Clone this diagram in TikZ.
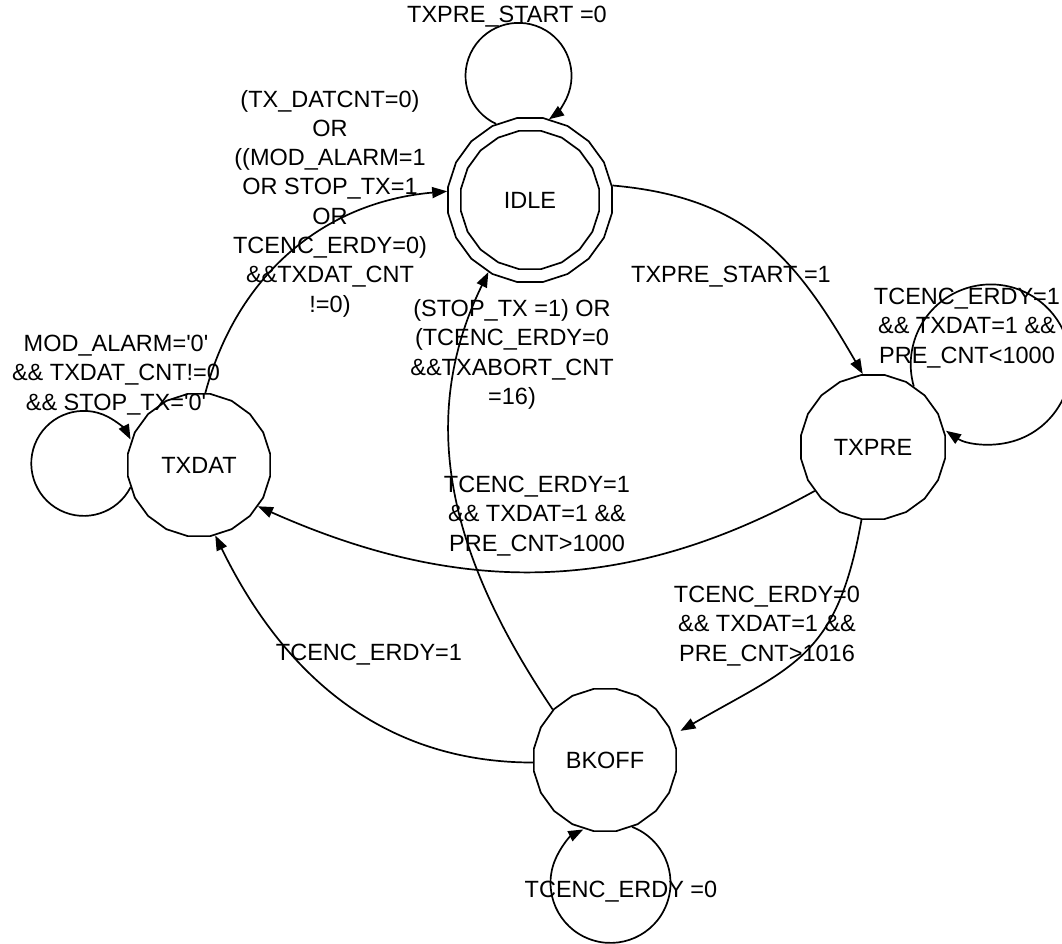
\documentclass[tikz,border=0pt]{standalone}
\usepackage{fontspec}
\setmainfont{Liberation Sans}[Ligatures=TeXOff]
\usetikzlibrary{arrows.meta,shapes.geometric}
\newcommand\fsmfont{\fontsize{23.5}{29.3}\selectfont}
\begin{document}
\begin{tikzpicture}[x=1pt,y=1pt,
  state/.style={draw, line width=1.7pt, regular polygon, regular polygon sides=20,
                inner sep=0pt, font=\fsmfont},
  cond/.style={align=center, inner sep=0pt, font=\fsmfont},
  trans/.style={draw, line width=1.7pt, -{Triangle[length=15pt,width=11pt]}}]
\useasboundingbox (0,0) rectangle (1062,-944);

% states
\node[state, minimum size=166pt] (idle) at (530,-200) {IDLE};
\node[state, minimum size=140pt] (idlein) at (idle.center) {};
\node[state, minimum size=144pt] (txdat) at (199,-465) {TXDAT};
\node[state, minimum size=146pt] (txpre) at (873,-447) {TXPRE};
\node[state, minimum size=144pt] (bkoff) at (605,-760) {BKOFF};

% transitions between states
\draw[trans] (idle.10) to[out=-5,in=120,looseness=1.1] (txpre.98);
\draw[trans] (txpre.217) to[out=209,in=-24] (txdat.-35);
\draw[trans, shorten >=9pt] (txpre.261) to[out=-100,in=30,looseness=1.25] (bkoff.20);
\draw[trans] (bkoff.182) to[out=180,in=-64] (txdat.-77);
\draw[trans] (bkoff.136) to[out=124,in=-116] (idle.240);
\draw[trans] (txdat.85) to[out=75,in=185] (idle.174);

% self loops
\draw[trans] (idle.114) arc[start angle=245,end angle=-55,radius=53pt];
\draw[trans] (txdat.198) arc[start angle=-27,end angle=-333,radius=52.5pt];
\draw[trans] (txpre.56) arc[start angle=196,end angle=-124,radius=80pt];
\draw[trans] (bkoff.-68) arc[start angle=69,end angle=-243,radius=60pt];

% transition conditions
\node[cond] (cidle) at (507,-17) {TXPRE\_START =0};
\node[cond] (cstart) at (731,-277) {TXPRE\_START =1};
\node[cond] (cdone) at (330,-203.5) {(TX\_DATCNT=0)\\OR\\((MOD\_ALARM=1\\OR STOP\_TX=1\\OR\\TCENC\_ERDY=0)\\\&\&TXDAT\_CNT\\!=0)};
\node[cond] (cstay) at (116,-375) {MOD\_ALARM='0'\\\&\& TXDAT\_CNT!=0\\\&\& STOP\_TX='0'};
\node[cond] (cwait) at (967,-328) {TCENC\_ERDY=1\\\&\& TXDAT=1 \&\&\\PRE\_CNT<1000};
\node[cond] (cdata) at (537,-516) {TCENC\_ERDY=1\\\&\& TXDAT=1 \&\&\\PRE\_CNT>1000};
\node[cond] (cback) at (767,-626) {TCENC\_ERDY=0\\\&\& TXDAT=1 \&\&\\PRE\_CNT>1016};
\node[cond] (cresume) at (369,-655) {TCENC\_ERDY=1};
\node[cond] (cabort) at (512,-354.5) {(STOP\_TX =1) OR\\(TCENC\_ERDY=0\\\&\&TXABORT\_CNT\\=16)};
\node[cond] (chold) at (621,-892) {TCENC\_ERDY =0};
\end{tikzpicture}
\end{document}
